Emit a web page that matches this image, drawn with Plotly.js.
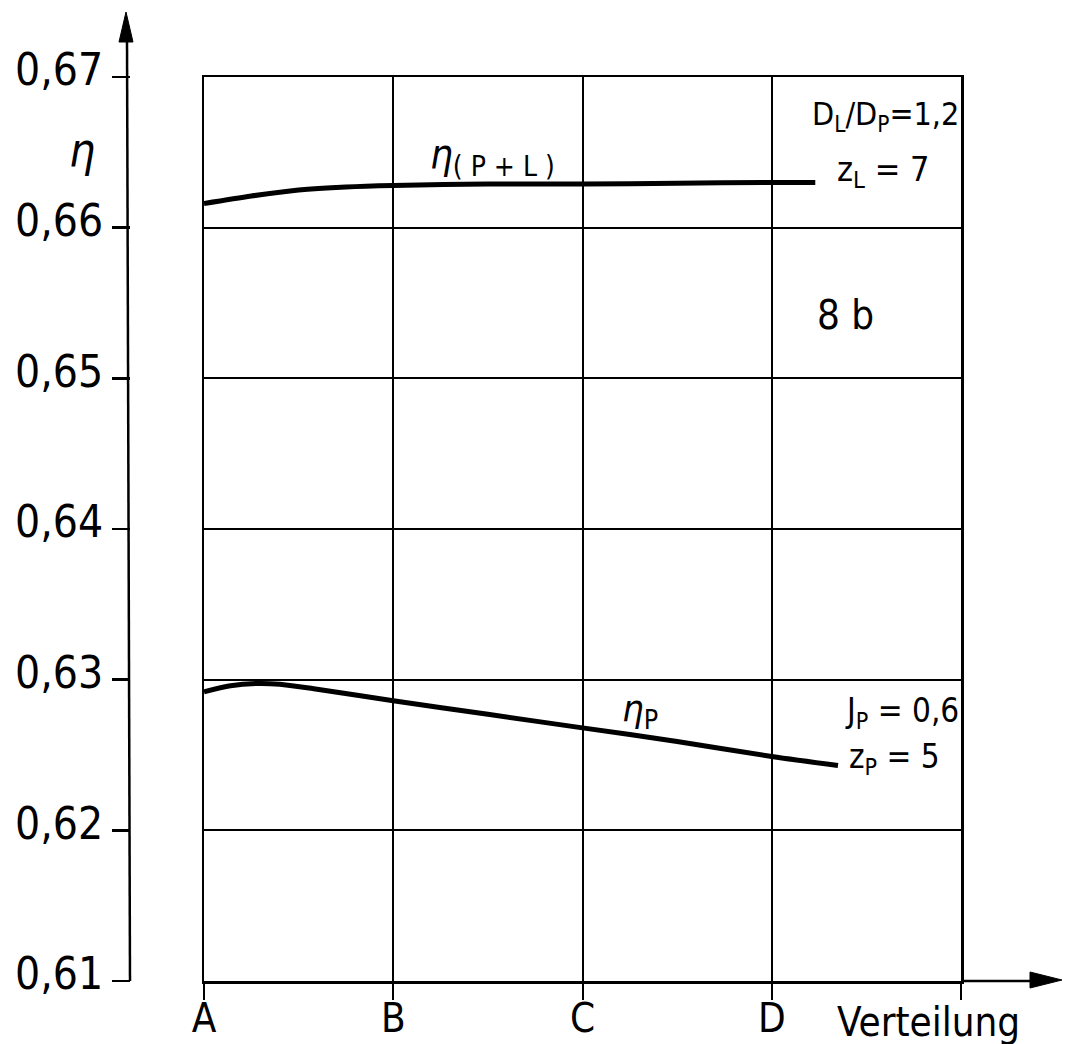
<!DOCTYPE html>
<html>
<head>
<meta charset="utf-8">
<script src="https://cdn.plot.ly/plotly-3.0.1.min.js"></script>
<style>html,body{margin:0;padding:0;background:#fff;}</style>
</head>
<body>
<div id="chart" style="width:1065px;height:1044px;"></div>
<script>
// ---- data ----
var xTickVals = [0, 1, 2, 3, 4];
var xTickText = ['A', 'B', 'C', 'D', ' '];
var yTickVals = [0.61, 0.62, 0.63, 0.64, 0.65, 0.66, 0.67];
var yTickText = ['0,61', '0,62', '0,63', '0,64', '0,65', '0,66', '0,67'];

var etaPL_x = [0, 0.25, 0.5, 0.75, 1, 1.5, 2, 2.5, 3, 3.23];
var etaPL_y = [0.6616, 0.6621, 0.6625, 0.6627, 0.6628, 0.6629, 0.6629, 0.66295, 0.6630, 0.6630];

var etaP_x = [0, 0.14, 0.28, 0.4, 0.58, 1, 1.5, 2, 2.5, 3, 3.35];
var etaP_y = [0.6292, 0.6296, 0.62975, 0.6297, 0.6294, 0.6286, 0.6277, 0.6268, 0.6259, 0.6249, 0.6243];

// ---- geometry helpers (pixel -> paper) ----
var PW = 961, PT = 77, PB = 981, PH = PB - PT;
function px(X) { return X / PW; }
function py(Y) { return (PB - Y) / PH; }

var FONT = '"Liberation Sans Narrow", "DejaVu Sans Condensed", "Liberation Sans", Arial, sans-serif';
var INK = '#000';

var traces = [
  {x: etaP_x, y: etaP_y, mode: 'lines', line: {color: INK, width: 5, shape: 'spline', smoothing: 0.8}, hoverinfo: 'skip'},
  {x: etaPL_x, y: etaPL_y, xaxis: 'x2', yaxis: 'y2', mode: 'lines', line: {color: INK, width: 5, shape: 'spline', smoothing: 0.8}, hoverinfo: 'skip'}
];

function ann(text, x, y, size, opts) {
  var a = {text: text, x: x, y: y, xref: 'x', yref: 'y', showarrow: false,
           xanchor: 'left', yanchor: 'middle', font: {family: FONT, size: size, color: INK}};
  for (var k in (opts || {})) a[k] = opts[k];
  return a;
}

var layout = {
  width: 1065, height: 1044,
  margin: {l: 0, r: 104, t: PT, b: 1044 - PB, pad: 0},
  paper_bgcolor: '#fff', plot_bgcolor: '#fff',
  showlegend: false,
  font: {family: FONT, color: INK},
  xaxis: {
    domain: [204 / PW, 1], range: [0, 4], automargin: false,
    tickmode: 'array', tickvals: xTickVals, showticklabels: false,
    ticks: 'outside', ticklen: 16, tickwidth: 2, tickcolor: INK,
    showgrid: true, gridcolor: INK, gridwidth: 2,
    showline: true, linecolor: INK, linewidth: 2.5, mirror: true,
    zeroline: false, fixedrange: true
  },
  xaxis2: {
    overlaying: 'x', anchor: 'y', side: 'bottom',
    domain: [204 / PW, 1], range: [0, 4], automargin: false,
    tickmode: 'array', tickvals: xTickVals, ticktext: xTickText,
    ticks: '', ticklabelstandoff: 10,
    tickfont: {family: FONT, size: 40, color: INK},
    showgrid: false, showline: false, zeroline: false, fixedrange: true
  },
  yaxis: {
    range: [0.61, 0.67], automargin: false,
    tickmode: 'array', tickvals: yTickVals, showticklabels: false, ticks: '',
    showgrid: true, gridcolor: INK, gridwidth: 2,
    showline: true, linecolor: INK, linewidth: 2.5, mirror: true,
    zeroline: false, fixedrange: true
  },
  yaxis2: {
    overlaying: 'y', anchor: 'free', position: 130 / PW, side: 'left',
    range: [0.61, 0.67], automargin: false,
    tickmode: 'array', tickvals: yTickVals, ticktext: yTickText,
    ticks: 'outside', ticklen: 18, tickwidth: 2.5, tickcolor: INK,
    tickfont: {family: FONT, size: 44, color: INK},
    ticklabelstandoff: 0, ticklabelshift: -7,
    showgrid: false, showline: false, zeroline: false, fixedrange: true
  },
  shapes: [
    // left value axis with arrow
    {type: 'line', xref: 'paper', yref: 'paper', x0: px(130), y0: py(981), x1: px(127), y1: py(40),
     line: {color: INK, width: 2.5}},
    {type: 'path', xref: 'paper', yref: 'paper',
     path: 'M ' + px(126) + ' ' + py(12) + ' L ' + px(119) + ' ' + py(42) + ' L ' + px(133) + ' ' + py(42) + ' Z',
     fillcolor: INK, line: {color: INK, width: 1}},
    // x axis extension with arrow
    {type: 'line', xref: 'paper', yref: 'paper', x0: 1, y0: 0, x1: px(1034), y1: 0,
     line: {color: INK, width: 2.5}},
    {type: 'path', xref: 'paper', yref: 'paper',
     path: 'M ' + px(1062) + ' ' + py(980) + ' L ' + px(1030) + ' ' + py(972) + ' L ' + px(1030) + ' ' + py(988) + ' Z',
     fillcolor: INK, line: {color: INK, width: 1}}
  ],
  annotations: [
    ann('<i>η</i>', px(82), py(150), 46, {xref: 'paper', yref: 'paper', xanchor: 'center'}),
    ann('Verteilung', 3.334, py(1022), 40, {yref: 'paper'}),
    ann('<i>η</i><sub>( P + L )</sub>', 1.184, 0.66470, 40),
    ann('8 b', 3.23, 0.65421, 40),
    ann('D<sub>L</sub>/D<sub>P</sub>=1,2', 3.20, 0.66740, 32),
    ann('z<sub>L</sub> = 7', 3.334, 0.66370, 34),
    ann('<i>η</i><sub>P</sub>', 2.198, 0.62795, 38),
    ann('J<sub>P</sub> = 0,6', 3.376, 0.62780, 33),
    ann('z<sub>P</sub> = 5', 3.398, 0.62480, 33)
  ]
};

Plotly.newPlot('chart', traces, layout, {staticPlot: true, displayModeBar: false});
</script>
</body>
</html>
